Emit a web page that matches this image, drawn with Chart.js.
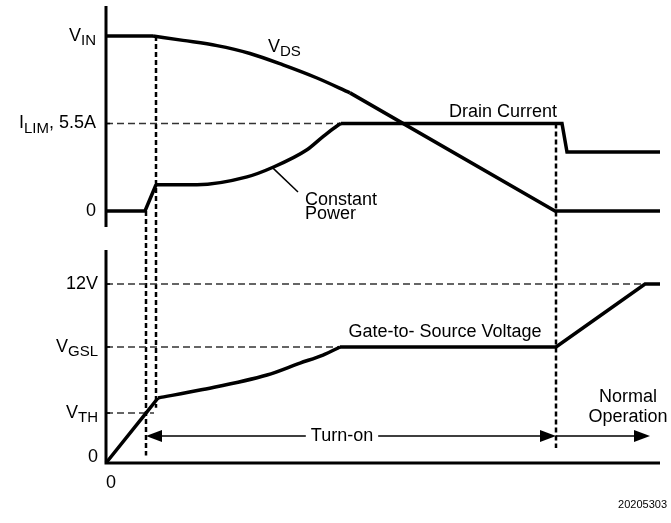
<!DOCTYPE html>
<html>
<head>
<meta charset="utf-8">
<script src="https://cdn.jsdelivr.net/npm/chart.js@4"></script>
<style>
  html, body { margin: 0; padding: 0; background: #fff; }
  canvas { display: block; }
</style>
</head>
<body>
<canvas id="grafico" width="671" height="523"></canvas>
<script>
// tempo (unidades arbitrarias) e valores de cada curva
// painel de cima: 0 = zero, 1 = I_LIM, 2 = V_IN
const vdsT = [0, 4.7, 7.7, 11.1, 14.4, 17.7, 21.1, 24.4, 44.9, 55.4];
const vdsV = [2.0, 2.0, 1.95, 1.89, 1.80, 1.67, 1.52, 1.35, 0, 0];
const vdsCurva = [1, 7]; // trecho curvo (indices)

const idT = [0, 3.9, 5.0, 9.1, 14.1, 16.7, 20.1, 21.7, 23.2, 23.5, 45.6, 46.1, 55.4];
const idV = [0, 0, 0.30, 0.30, 0.39, 0.50, 0.70, 0.85, 0.98, 1.0, 1.0, 0.675, 0.675];
const idCurva = [2, 9];

// painel de baixo: tensao gate-source (V)
const vgsT = [0, 4.0, 5.2, 9.4, 16.1, 19.4, 21.7, 23.4, 45.0, 53.9, 55.4];
const vgsV = [0, 3.35, 4.36, 4.89, 5.90, 6.70, 7.24, 7.78, 7.78, 12, 12];
const vgsCurva = [2, 7];

// niveis de referencia (ticks)
const topTickVals = [0, 1, 2];
const topTickLabels = [[['0', 0]], [['I', 0], ['LIM', 1], [', 5.5A', 0]], [['V', 0], ['IN', 1]]];
const botTickVals = [0, 3.35, 7.78, 12];
const botTickLabels = [[['0', 0]], [['V', 0], ['TH', 1]], [['V', 0], ['GSL', 1]], [['12V', 0]]];

// linhas verticais tracejadas (instante, topo no painel de cima, fim no painel de baixo)
const markerT = [4.0, 5.0, 45.0];
const markerTop = [0, 2.0, 1.0];
const markerBot = [0.5, 3.7, 1.0];

// fim das linhas horizontais tracejadas
const ilimDashEnd = 45.0;
const botDashEnd = [4.8, 23.4, 53.9]; // V_TH, V_GSL, 12V

const pts = (t, v) => t.map((x, i) => ({ x: x, y: v[i] }));

const FONT = '"Liberation Sans", Arial, Helvetica, sans-serif';

function richText(ctx, parts, px, py, align) {
    let w = 0;
    parts.forEach(p => {
        ctx.font = (p[1] ? '15px ' : '18px ') + FONT;
        w += ctx.measureText(p[0]).width;
    });
    let x = align === 'right' ? px - w : align === 'center' ? px - w / 2 : px;
    ctx.textAlign = 'left';
    ctx.textBaseline = 'middle';
    parts.forEach(p => {
        ctx.font = (p[1] ? '15px ' : '18px ') + FONT;
        ctx.fillText(p[0], x, p[1] ? py + 5 : py);
        x += ctx.measureText(p[0]).width;
    });
    return w;
}

function head(ctx, x, y, dir) {
    ctx.beginPath();
    ctx.moveTo(x, y);
    ctx.lineTo(x - dir * 16, y - 6);
    ctx.lineTo(x - dir * 16, y + 6);
    ctx.closePath();
    ctx.fill();
}

const desenho = {
    id: 'desenho',
    beforeDatasetsDraw(chart) {
        const { ctx, scales: { x, yTop, yBot } } = chart;
        ctx.save();
        // marcadores verticais
        ctx.strokeStyle = '#000';
        ctx.lineWidth = 2.5;
        ctx.setLineDash([5, 3]);
        markerT.forEach((t, i) => {
            ctx.beginPath();
            ctx.moveTo(x.getPixelForValue(t), yTop.getPixelForValue(markerTop[i]));
            ctx.lineTo(x.getPixelForValue(t), yBot.getPixelForValue(markerBot[i]));
            ctx.stroke();
        });
        ctx.restore();
    },
    afterDatasetsDraw(chart) {
        const { ctx, scales: { x, yTop, yBot } } = chart;
        const x0 = x.getPixelForValue(0);
        ctx.save();
        ctx.fillStyle = '#000';
        ctx.strokeStyle = '#000';

        // eixos
        ctx.lineWidth = 3;
        ctx.beginPath();
        ctx.moveTo(x0, yTop.getPixelForValue(yTop.max));
        ctx.lineTo(x0, yTop.getPixelForValue(-0.183));
        ctx.moveTo(x0, yBot.getPixelForValue(14.28));
        ctx.lineTo(x0, yBot.getPixelForValue(0));
        ctx.lineTo(x.getPixelForValue(x.max), yBot.getPixelForValue(0));
        ctx.stroke();

        // ticks e rotulos
        ctx.lineWidth = 1.5;
        topTickVals.forEach((v, i) => {
            const py = yTop.getPixelForValue(v);
            ctx.beginPath(); ctx.moveTo(x0, py); ctx.lineTo(x0 + 4, py); ctx.stroke();
            richText(ctx, topTickLabels[i], x0 - 10, py, 'right');
        });
        botTickVals.forEach((v, i) => {
            const py = yBot.getPixelForValue(v);
            ctx.beginPath(); ctx.moveTo(x0, py); ctx.lineTo(x0 + 4, py); ctx.stroke();
            richText(ctx, botTickLabels[i], x0 - 8, v === 0 ? py - 6 : py, 'right');
        });
        richText(ctx, [['0', 0]], x.getPixelForValue(0.5), yBot.getPixelForValue(-1.34), 'center');

        // textos das curvas
        richText(ctx, [['V', 0], ['DS', 1]], x.getPixelForValue(16.2), yTop.getPixelForValue(1.878), 'left');
        richText(ctx, [['Drain Current', 0]], x.getPixelForValue(39.7), yTop.getPixelForValue(1.13), 'center');
        richText(ctx, [['Constant', 0]], x.getPixelForValue(19.9), yTop.getPixelForValue(0.126), 'left');
        richText(ctx, [['Power', 0]], x.getPixelForValue(19.9), yTop.getPixelForValue(-0.034), 'left');
        richText(ctx, [['Gate-to- Source Voltage', 0]], x.getPixelForValue(33.9), yBot.getPixelForValue(8.78), 'center');

        // linha indicadora "Constant Power"
        ctx.lineWidth = 1.5;
        ctx.beginPath();
        ctx.moveTo(x.getPixelForValue(16.7), yTop.getPixelForValue(0.49));
        ctx.lineTo(x.getPixelForValue(19.2), yTop.getPixelForValue(0.217));
        ctx.stroke();

        // setas Turn-on / Normal Operation
        const ay = yBot.getPixelForValue(1.81);
        const xa = x.getPixelForValue(markerT[0]);
        const xb = x.getPixelForValue(markerT[2]);
        const xc = x.getPixelForValue(54.4);
        const cx = x.getPixelForValue(23.6);
        const w = richText(ctx, [['Turn-on', 0]], cx, ay, 'center');
        ctx.beginPath();
        ctx.moveTo(xa + 4, ay); ctx.lineTo(cx - w / 2 - 5, ay);
        ctx.moveTo(cx + w / 2 + 5, ay); ctx.lineTo(xb - 4, ay);
        ctx.moveTo(xb, ay); ctx.lineTo(xc - 4, ay);
        ctx.stroke();
        head(ctx, xa, ay, -1);
        head(ctx, xb, ay, 1);
        head(ctx, xc, ay, 1);
        richText(ctx, [['Normal', 0]], x.getPixelForValue(52.2), yBot.getPixelForValue(4.42), 'center');
        richText(ctx, [['Operation', 0]], x.getPixelForValue(52.2), yBot.getPixelForValue(3.08), 'center');

        // codigo da figura
        ctx.font = '11px ' + FONT;
        ctx.textAlign = 'right';
        ctx.textBaseline = 'middle';
        ctx.fillText('20205303', chart.width - 4, 505);
        ctx.restore();
    }
};

const traco = { borderColor: '#000', borderWidth: 3.5, pointRadius: 0, tension: 0, fill: false, borderJoinStyle: 'miter', clip: false };
const tracejado = { borderColor: '#333', borderWidth: 1.5, borderDash: [7, 4], pointRadius: 0, tension: 0, fill: false };

// cada curva: trechos retos + trecho curvo suavizado (monotone)
function partes(label, t, v, curva, eixo) {
    const p = pts(t, v);
    return [
        { ...traco, label: label, data: p.slice(0, curva[0] + 1), yAxisID: eixo },
        { ...traco, label: label, data: p.slice(curva[0], curva[1] + 1), yAxisID: eixo, cubicInterpolationMode: 'monotone' },
        { ...traco, label: label, data: p.slice(curva[1]), yAxisID: eixo }
    ];
}

new Chart(document.getElementById('grafico'), {
    type: 'line',
    data: {
        datasets: [
            ...partes('VDS', vdsT, vdsV, vdsCurva, 'yTop'),
            ...partes('Drain Current', idT, idV, idCurva, 'yTop'),
            ...partes('Gate-to-Source Voltage', vgsT, vgsV, vgsCurva, 'yBot'),
            { ...tracejado, label: 'ILIM', data: [{ x: 0, y: topTickVals[1] }, { x: ilimDashEnd, y: topTickVals[1] }], yAxisID: 'yTop' },
            { ...tracejado, label: 'VTH', data: [{ x: 0, y: botTickVals[1] }, { x: botDashEnd[0], y: botTickVals[1] }], yAxisID: 'yBot' },
            { ...tracejado, label: 'VGSL', data: [{ x: 0, y: botTickVals[2] }, { x: botDashEnd[1], y: botTickVals[2] }], yAxisID: 'yBot' },
            { ...tracejado, label: '12V', data: [{ x: 0, y: botTickVals[3] }, { x: botDashEnd[2], y: botTickVals[3] }], yAxisID: 'yBot' }
        ]
    },
    options: {
        responsive: false,
        animation: false,
        layout: { padding: { left: 106, right: 11, top: 6, bottom: 60 } },
        plugins: { legend: { display: false }, tooltip: { enabled: false } },
        scales: {
            x: { type: 'linear', min: 0, max: 55.4, display: false },
            // os dois paineis ocupam a mesma area; as faixas colocam cada um na sua altura
            yTop: { type: 'linear', min: -2.88, max: 2.343, display: false },
            yBot: { type: 'linear', min: 0, max: 30.64, display: false }
        }
    },
    plugins: [desenho]
});
</script>
</body>
</html>
